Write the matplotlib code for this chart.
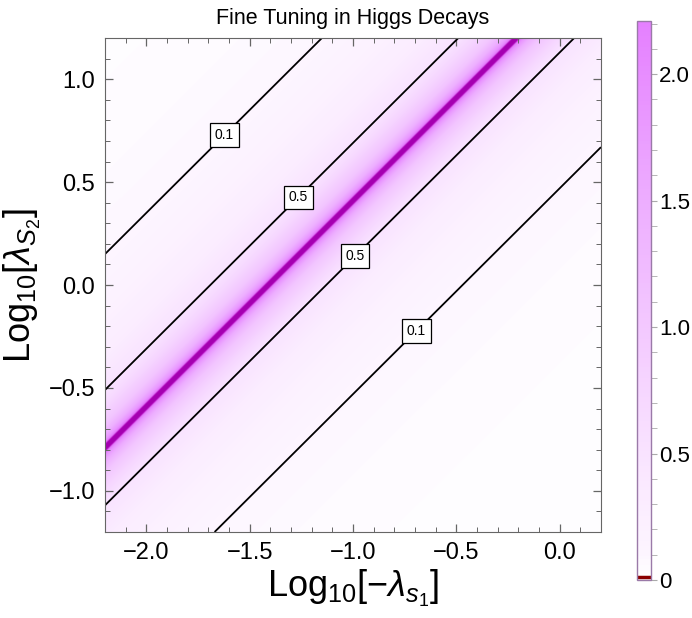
import numpy as np
import matplotlib
matplotlib.use("Agg")
import matplotlib.pyplot as plt
from matplotlib.colors import LinearSegmentedColormap, Normalize
from matplotlib.ticker import MultipleLocator, FixedLocator, FuncFormatter

plt.rcParams['font.family'] = ['Liberation Sans', 'DejaVu Sans']
plt.rcParams['mathtext.fontset'] = 'custom'
plt.rcParams['mathtext.rm'] = 'Liberation Sans'
plt.rcParams['mathtext.it'] = 'Liberation Sans:italic'

# ejes (log10)
x_lim = [-2.2, 0.2]
y_lim = [-1.2, 1.2]

# la cresta sigue y = x + cresta_c
cresta_m = 1.0
cresta_c = 1.41

# perfil del ajuste fino vs distancia vertical |d| a la cresta
perfil_d = [0.0, 0.009, 0.015, 0.024, 0.04, 0.07, 0.12, 0.2, 0.28, 0.45, 0.65, 0.94, 1.3, 2.0, 2.7]
perfil_v = [5.0, 4.8, 4.0, 2.3, 1.85, 1.45, 1.05, 0.74, 0.5, 0.3, 0.18, 0.1, 0.06, 0.03, 0.02]

niveles = [0.1, 0.5]
# posiciones de etiquetas de contorno
etiq_x = [-1.61, -1.26, -0.985, -0.686]
etiq_y = [0.716, 0.42, 0.134, -0.233]

# colores: valor -> color
col_val = [0.0, 0.1, 0.5, 1.0, 1.5, 2.2, 3.0, 4.0, 5.0]
col_hex = ['#ffffff', '#fdf5ff', '#f9e3ff', '#f3c8ff', '#edadff', '#e580ff',
           '#d050e0', '#aa00b6', '#a400b0']
vmax = 5.0

cmap = LinearSegmentedColormap.from_list(
    'fino', [(v / vmax, c) for v, c in zip(col_val, col_hex)])
norm = Normalize(0, vmax)

xs = np.linspace(x_lim[0], x_lim[1], 1600)
ys = np.linspace(y_lim[0], y_lim[1], 1600)
X, Y = np.meshgrid(xs, ys)
D = np.abs(Y - (cresta_m * X + cresta_c))
Z = np.interp(D, perfil_d, perfil_v)

menos = FuncFormatter(lambda v, p: ('%.1f' % v).replace('-', '\u2212'))

fig = plt.figure(figsize=(6.92, 6.18), dpi=100)
ax = fig.add_axes([105/692, 1-532/618, 496/692, 494/618])
im = ax.imshow(Z, origin='lower', extent=x_lim + y_lim, aspect='auto',
               cmap=cmap, norm=norm, interpolation='bilinear')
cs = ax.contour(X, Y, Z, levels=niveles, colors='black', linewidths=1.3)
txts = ax.clabel(cs, manual=list(zip(etiq_x, etiq_y)), inline=False,
                 fmt='%.1f', fontsize=10)
for t in txts:
    t.set_rotation(0)
    t.set_fontsize(10)
    t.set_bbox(dict(facecolor='white', edgecolor='black', linewidth=0.9, pad=3.5))
    t.set_zorder(5)

ax.set_xlim(x_lim)
ax.set_ylim(y_lim)
ax.xaxis.set_major_locator(MultipleLocator(0.5))
ax.xaxis.set_minor_locator(MultipleLocator(0.1))
ax.yaxis.set_major_locator(MultipleLocator(0.5))
ax.yaxis.set_minor_locator(MultipleLocator(0.1))
ax.tick_params(which='both', direction='in', top=True, right=True,
               color='#666666', labelsize=17, pad=7)
ax.tick_params(which='major', length=6, width=0.9)
ax.tick_params(which='minor', length=3.5, width=0.7)
for s in ax.spines.values():
    s.set_color('#666666')
ax.xaxis.set_major_formatter(menos)
ax.yaxis.set_major_formatter(menos)

ax.set_title('Fine Tuning in Higgs Decays', fontsize=15.5, pad=10)
ax.set_xlabel('Log$_{10}$[$\u2212\\lambda_{s_1}$]', fontsize=26, labelpad=3)
ax.set_ylabel(r'Log$_{10}$[$\lambda_{S_2}$]', fontsize=26, labelpad=4)

# barra de color
cax = fig.add_axes([637/692, 1-580/618, 14/692, 559/618])
cb = fig.colorbar(im, cax=cax, boundaries=np.linspace(0, 2.21, 300))
cb.outline.set_edgecolor('#9a7aa8')
cb.outline.set_linewidth(1.0)
cb.set_ticks([0, 0.5, 1.0, 1.5, 2.0])
cb.set_ticklabels(['0', '0.5', '1.0', '1.5', '2.0'])
cax.yaxis.set_minor_locator(FixedLocator(np.arange(0.1, 2.21, 0.1)))
cax.tick_params(which='both', direction='out', color='#aaaaaa', labelsize=16, pad=2)
cax.tick_params(which='major', length=4, width=0.8)
cax.tick_params(which='minor', length=4, width=0.6)
cax.axhline(0.012, color='#8b0000', lw=2.5)

fig.savefig('out.png', dpi=100)
